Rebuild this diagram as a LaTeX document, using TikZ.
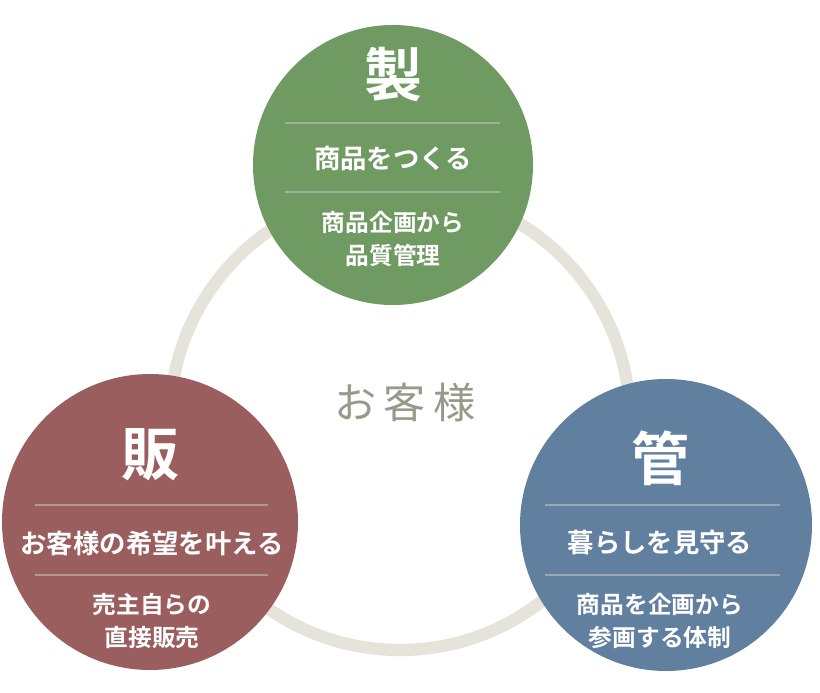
\documentclass[tikz,border=0pt]{standalone}
\usepackage{fontspec}
\setmainfont{Noto Sans CJK JP}
\newfontfamily\jpbold{Noto Sans CJK JP Bold}
\usetikzlibrary{positioning}
\definecolor{seigreen}{HTML}{6F9A62}
\definecolor{hanred}{HTML}{9B5E5E}
\definecolor{kanblue}{HTML}{617F9E}
\definecolor{ringgray}{HTML}{E6E3DA}
\definecolor{textgray}{HTML}{9A9889}
\tikzset{
  disc/.style={circle, minimum size=#1*0.02cm, inner sep=0pt},
  bigchar/.style={text=white, font=\jpbold\fontsize{33}{33}\selectfont},
  midtext/.style={text=white, font=\jpbold\fontsize{15}{16}\selectfont},
  smalltext/.style={text=white, align=center, font=\jpbold\fontsize{13.5}{18.5}\selectfont},
  rule/.style={white!75!black, opacity=0.6, line width=0.6pt}
}
\begin{document}
\begin{tikzpicture}[x=0.02cm, y=-0.02cm]
  \useasboundingbox (0,0) rectangle (820,692);
  % ring behind the discs
  \draw[ringgray, line width=7pt] (400,420) circle (230);
  \node[text=textgray, font=\fontsize{24}{24}\selectfont] (guest) at (405,402) {お\,客\,様};

  % top disc
  \node[disc=280, fill=seigreen] (S0) at (393,165) {};
  \node[bigchar] (S0t) at (393,75) {製};
  \draw[rule] (285,123) -- (500,123);
  \node[midtext] (S0m) at (393,158) {商品をつくる};
  \draw[rule] (285,192) -- (500,192);
  \node[smalltext] (S0s) at (393,239) {商品企画から\\品質管理};

  % left disc
  \node[disc=296, fill=hanred] (S1) at (150,522) {};
  \node[bigchar] (S1t) at (150,455) {販};
  \draw[rule] (35,505) -- (268,505);
  \node[midtext] (S1m) at (152,543) {お客様の希望を叶える};
  \draw[rule] (35,575) -- (268,575);
  \node[smalltext] (S1s) at (152,621) {売主自らの\\直接販売};

  % right disc
  \node[disc=292, fill=kanblue] (S2) at (666,525) {};
  \node[bigchar] (S2t) at (660,458) {管};
  \draw[rule] (545,505) -- (780,505);
  \node[midtext] (S2m) at (660,543) {暮らしを見守る};
  \draw[rule] (545,575) -- (780,575);
  \node[smalltext] (S2s) at (660,621) {商品を企画から\\参画する体制};
\end{tikzpicture}
\end{document}
